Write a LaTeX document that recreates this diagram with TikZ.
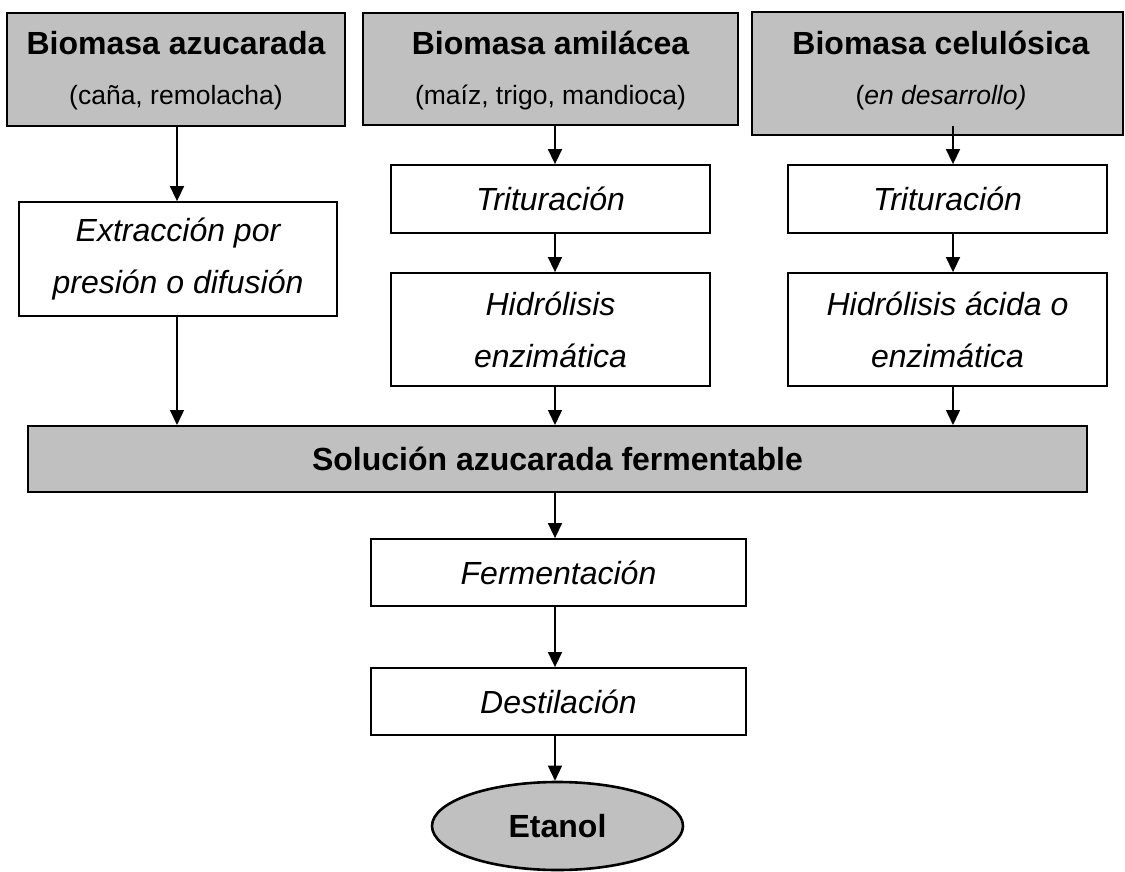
\documentclass[tikz,border=0pt]{standalone}
\usepackage{fontspec}
\setmainfont{Liberation Sans}
\usetikzlibrary{arrows.meta,shapes.geometric}
\definecolor{boxgray}{RGB}{192,192,192}
\begin{document}
\begin{tikzpicture}[x=1pt,y=-1pt,
  src/.style={draw, line width=2.6pt, fill=boxgray, inner sep=0pt},
  stepbox/.style={draw, line width=1.8pt, fill=white, inner sep=0pt, align=center,
    font=\fontsize{32}{52}\selectfont\itshape},
  arr/.style={line width=1.5pt, -{Triangle[width=14pt,length=15pt]}},
  title/.style={font=\fontsize{32}{38}\selectfont\bfseries, anchor=base, inner sep=0pt},
  sub/.style={font=\fontsize{26.5}{32}\selectfont, anchor=base, inner sep=0pt}]
\useasboundingbox (0,0) rectangle (1125,872);

% source boxes
\node[src, minimum width=338pt, minimum height=113pt] (b1) at (176,69.5) {};
\node[src, minimum width=375pt, minimum height=112pt] (b2) at (550.5,69) {};
\node[src, minimum width=371pt, minimum height=123pt] (b3) at (937.5,73.5) {};
\node[title] (t1) at (176,55) {Biomasa azucarada};
\node[sub] (s1) at (176,105) {(caña, remolacha)};
\node[title] (t2) at (550.5,55) {Biomasa amilácea};
\node[sub] (s2) at (550.5,105) {(maíz, trigo, mandioca)};
\node[title] (t3) at (941,55) {Biomasa celulósica};
\node[sub] (s3) at (941,105) {(\textit{en desarrollo)}};

% process steps
\node[stepbox, minimum width=318pt, minimum height=114pt] (ext) at (178,259) {Extracción por\\presión o difusión};
\node[stepbox, minimum width=319pt, minimum height=68pt] (tri2) at (550.5,199) {Trituración};
\node[stepbox, minimum width=319pt, minimum height=68pt] (tri3) at (947.5,199) {Trituración};
\node[stepbox, minimum width=319pt, minimum height=113pt] (hid2) at (550.5,329.5) {Hidrólisis\\enzimática};
\node[stepbox, minimum width=319pt, minimum height=113pt] (hid3) at (947.5,329.5) {Hidrólisis ácida o\\enzimática};

\node[draw, line width=2pt, fill=boxgray, inner sep=0pt, minimum width=1059pt, minimum height=66pt,
  font=\fontsize{32}{38}\selectfont\bfseries] (sol) at (557.5,459) {Solución azucarada fermentable};

\node[stepbox, minimum width=375pt, minimum height=67pt] (ferm) at (558.5,572.5) {Fermentación};
\node[stepbox, minimum width=375pt, minimum height=67pt] (dest) at (558.5,701.5) {Destilación};

\node[draw, ellipse, line width=2.6pt, fill=boxgray, inner sep=0pt, minimum width=251pt, minimum height=88pt,
  font=\fontsize{32}{38}\selectfont\bfseries] (eta) at (557.5,826) {Etanol};

% columns for connectors
\coordinate (xl) at (177,0);
\coordinate (xm) at (555,0);
\coordinate (xr) at (953,0);
\coordinate (xc) at (555,0);
\coordinate (b3o) at ([yshift=10pt]b3.south);

\draw[arr] (b1.south -| xl) -- (ext.north -| xl);
\draw[arr] (ext.south -| xl) -- (sol.north -| xl);
\draw[arr] (b2.south -| xm) -- (tri2.north -| xm);
\draw[arr] (tri2.south -| xm) -- (hid2.north -| xm);
\draw[arr] (hid2.south -| xm) -- (sol.north -| xm);
\draw[arr] (b3o -| xr) -- (tri3.north -| xr);
\draw[arr] (tri3.south -| xr) -- (hid3.north -| xr);
\draw[arr] (hid3.south -| xr) -- (sol.north -| xr);
\draw[arr] (sol.south -| xc) -- (ferm.north -| xc);
\draw[arr] (ferm.south -| xc) -- (dest.north -| xc);
\draw[arr] (dest.south -| xc) -- (eta.north -| xc);
\end{tikzpicture}
\end{document}
